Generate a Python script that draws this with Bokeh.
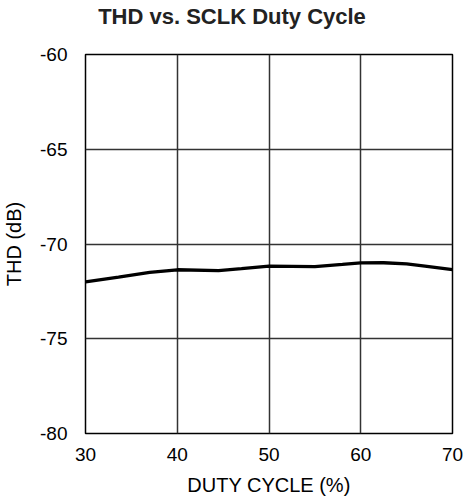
from bokeh.plotting import figure
from bokeh.embed import file_html
from bokeh.resources import INLINE
from bokeh.models import FixedTicker, PrintfTickFormatter, Div
from bokeh.layouts import column

# Data
duty = [30, 33.6, 37, 40, 44.5, 47, 50, 55, 58, 60, 62.5, 65, 67, 70]
thd = [-72.0, -71.75, -71.5, -71.36, -71.4, -71.3, -71.17, -71.19, -71.08, -71.0, -70.99, -71.05, -71.17, -71.35]
x_ticks = [30, 40, 50, 60, 70]
y_ticks = [-80, -75, -70, -65, -60]
title_text = "THD vs. SCLK Duty Cycle"

FONT = "Liberation Sans"

fig = figure(width=464, height=458, output_backend="svg", toolbar_location=None,
             x_range=(30, 70), y_range=(-80, -60),
             min_border_left=81, min_border_right=12, min_border_top=13, min_border_bottom=66)

fig.line(duty, thd, line_color="black", line_width=3.3)

fig.outline_line_color = "black"
fig.outline_line_width = 1.5
fig.outline_line_alpha = 1.0

for ax in (fig.xaxis[0], fig.yaxis[0]):
    ax.axis_line_color = None
    ax.major_tick_line_color = None
    ax.minor_tick_line_color = None
    ax.major_label_text_font = FONT
    ax.major_label_text_font_size = "19px"
    ax.major_label_text_color = "black"
    ax.axis_label_text_font = FONT
    ax.axis_label_text_font_size = "20px"
    ax.axis_label_text_font_style = "normal"
    ax.axis_label_text_color = "black"

fig.xaxis.ticker = FixedTicker(ticks=x_ticks)
fig.yaxis.ticker = FixedTicker(ticks=y_ticks)
fig.xaxis.formatter = PrintfTickFormatter(format="%d")
fig.yaxis.formatter = PrintfTickFormatter(format="%d")
fig.xaxis.axis_label = "DUTY CYCLE (%)"
fig.yaxis.axis_label = "THD (dB)"
fig.xaxis.major_label_standoff = 8
fig.yaxis.major_label_standoff = 12
fig.xaxis.axis_label_standoff = 10
fig.yaxis.axis_label_standoff = 12

fig.xgrid.grid_line_color = "#333333"
fig.ygrid.grid_line_color = "#333333"
fig.xgrid.grid_line_width = 1.5
fig.ygrid.grid_line_width = 1.5

title = Div(
    text=('<div style="font-family:\'Liberation Sans\',Arial,sans-serif;font-weight:bold;'
          'font-size:22px;color:#222222;text-align:center;line-height:20px;'
          'padding-top:7px;padding-left:6px;width:458px;margin:0;">' + title_text + '</div>'),
    width=464, height=41, margin=0)

p = column(title, fig, spacing=0, margin=0)

open("out.html", "w").write(file_html(p, INLINE))
